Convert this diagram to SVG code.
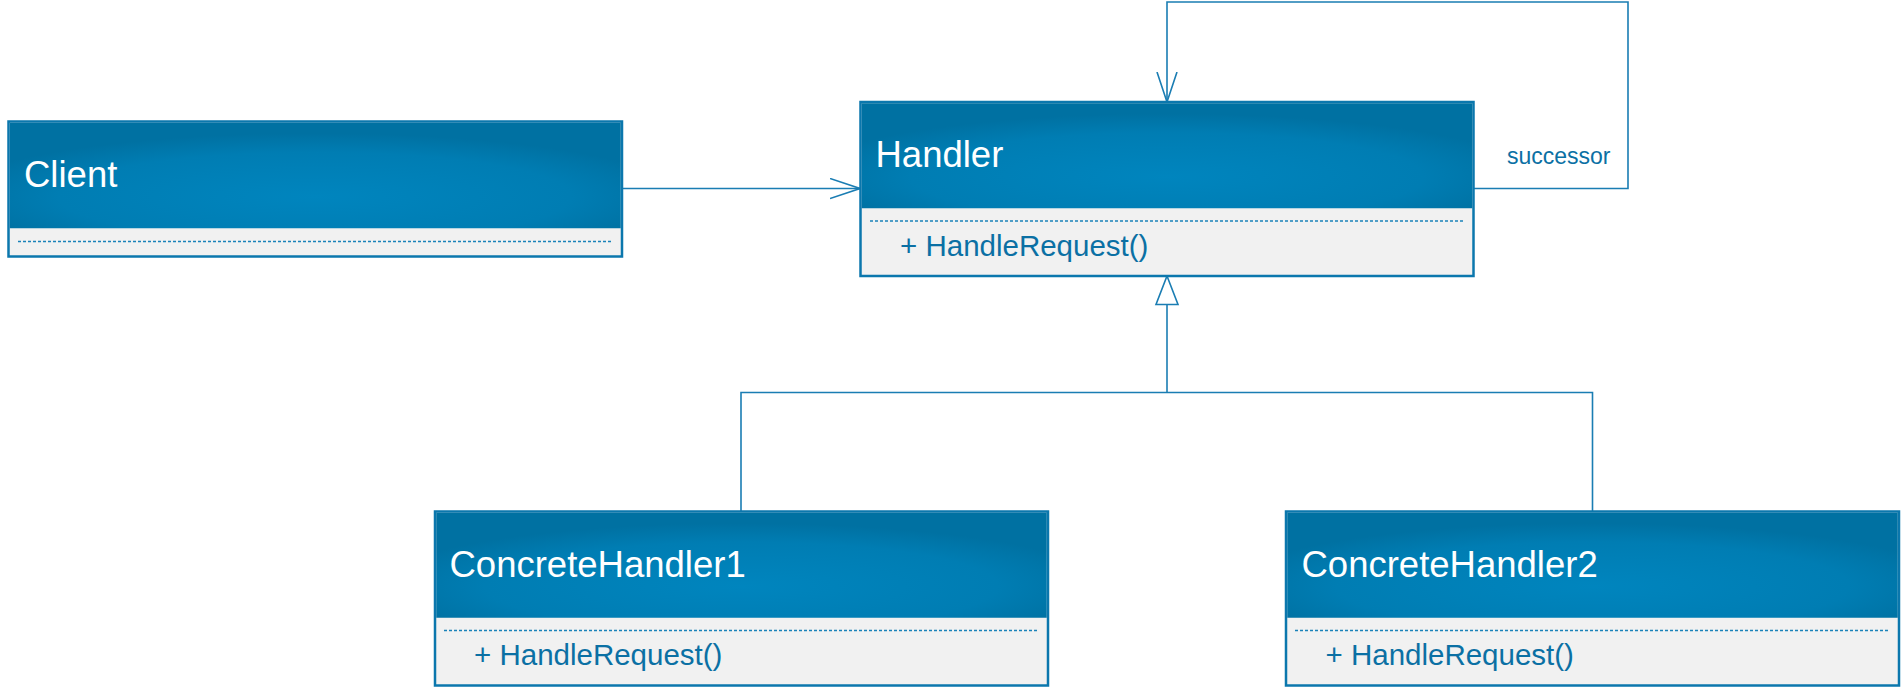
<svg xmlns="http://www.w3.org/2000/svg" width="1904" height="692" viewBox="0 0 1904 692">
<defs>
<radialGradient id="hdr" cx="0.5" cy="0.7" r="0.6" fx="0.5" fy="0.7">
<stop offset="0" stop-color="#0085be"/>
<stop offset="0.7" stop-color="#007db3"/>
<stop offset="1" stop-color="#0071a2"/>
</radialGradient>
<marker id="open" viewBox="0 0 32 22" markerWidth="32" markerHeight="22" refX="30" refY="11" orient="auto" markerUnits="userSpaceOnUse">
<path d="M0,1 L30,11 L0,21" fill="none" stroke="#1a7db3" stroke-width="1.6"/>
</marker>
</defs>
<style>
.box{fill:#f1f1f1;stroke:#0b77ad;stroke-width:2.5}
.head{fill:url(#hdr)}
.dash{stroke:#1a82b9;stroke-width:1.3;stroke-dasharray:3 2;fill:none}
.title{font-family:"Liberation Sans",Arial,sans-serif;font-size:36.5px;fill:#ffffff}
.meth{font-family:"Liberation Sans",Arial,sans-serif;font-size:29.5px;fill:#0b70a4}
.lbl{font-family:"Liberation Sans",Arial,sans-serif;font-size:23px;fill:#0b70a4}
.conn{fill:none;stroke:#1a7db3;stroke-width:1.6}
</style>
<rect width="1904" height="692" fill="#ffffff"/>

<g id="connectors">
<path class="conn" d="M622,188.5 L860,188.5" marker-end="url(#open)"/>
<path class="conn" d="M1474,188.5 L1628,188.5 L1628,2 L1167,2 L1167,102" marker-end="url(#open)"/>
<path class="conn" d="M741,511 L741,392.5 L1592.5,392.5 L1592.5,511"/>
<path class="conn" d="M1167,392.5 L1167,304.5"/>
<polygon class="conn" points="1167,276 1178,304.5 1156,304.5" fill="#ffffff"/>
<text class="lbl" x="1507" y="164">successor</text>
</g>

<g id="client">
<rect class="box" x="8.5" y="121.5" width="613.5" height="135"/>
<rect class="head" x="9.75" y="122.75" width="611" height="105.5"/>
<line class="dash" x1="18" y1="241.5" x2="613" y2="241.5"/>
<text class="title" x="24" y="187">Client</text>
</g>

<g id="handler">
<rect class="box" x="860.5" y="102" width="613" height="174"/>
<rect class="head" x="861.75" y="103.25" width="610.5" height="105"/>
<line class="dash" x1="870" y1="221" x2="1464" y2="221"/>
<text class="title" x="875.5" y="166.7">Handler</text>
<text class="meth" x="900" y="256">+ HandleRequest()</text>
</g>

<g id="concrete1">
<rect class="box" x="435" y="511.5" width="613" height="174"/>
<rect class="head" x="436.25" y="512.75" width="610.5" height="105"/>
<line class="dash" x1="444" y1="630.5" x2="1039" y2="630.5"/>
<text class="title" x="449.5" y="576.7">ConcreteHandler1</text>
<text class="meth" x="474" y="664.5">+ HandleRequest()</text>
</g>

<g id="concrete2">
<rect class="box" x="1286" y="511.5" width="613" height="174"/>
<rect class="head" x="1287.25" y="512.75" width="610.5" height="105"/>
<line class="dash" x1="1295" y1="630.5" x2="1890" y2="630.5"/>
<text class="title" x="1301.5" y="576.7">ConcreteHandler2</text>
<text class="meth" x="1325.5" y="664.5">+ HandleRequest()</text>
</g>
</svg>
